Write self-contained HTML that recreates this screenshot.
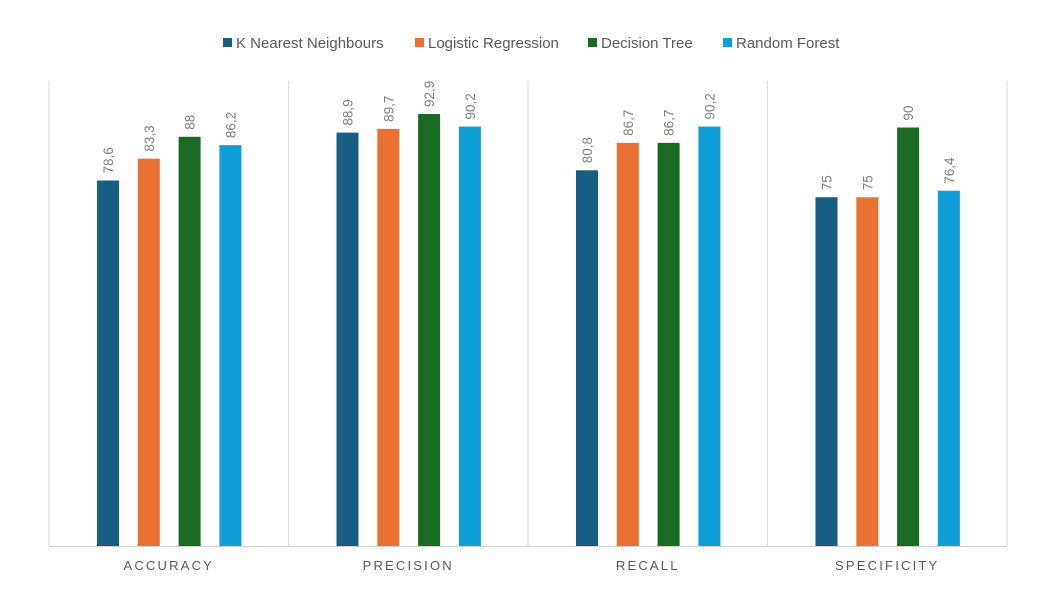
<!DOCTYPE html>
<html><head><meta charset="utf-8"><style>
body{margin:0;background:#fff;width:1062px;height:594px;overflow:hidden;font-family:"Liberation Sans",sans-serif}
</style></head><body>
<svg width="1062" height="594">
<g id="legend"></g>
<g id="grid"></g>
<g id="bars"></g>
<g id="labels"></g>
<g id="xlab"></g>
</svg>
<script>
const categories=["ACCURACY","PRECISION","RECALL","SPECIFICITY"];
const seriesNames=["K Nearest Neighbours","Logistic Regression","Decision Tree","Random Forest"];
const knn=[78.6,88.9,80.8,75];
const lr=[83.3,89.7,86.7,75];
const dt=[88,92.9,86.7,90];
const rf=[86.2,90.2,90.2,76.4];
const valueLabels=[["78,6","88,9","80,8","75"],["83,3","89,7","86,7","75"],["88","92,9","86,7","90"],["86,2","90,2","90,2","76,4"]];
const series=[knn,lr,dt,rf];
const colors=["#175f82","#e97132","#196b24","#0f9ed5"];
const NS="http://www.w3.org/2000/svg";
const L=49,R=1007,T=81,B=546,ymax=100;
const cw=(R-L)/categories.length;
const y=v=>B-(B-T)*v/ymax;
const xb=(c,s)=>L+c*cw+48+s*40.8;
function mk(tag,attrs,parent){const e=document.createElementNS(NS,tag);for(const k in attrs)e.setAttribute(k,attrs[k]);parent.appendChild(e);return e;}
const g=document.getElementById('grid'),gb=document.getElementById('bars'),gl=document.getElementById('labels'),gx=document.getElementById('xlab'),lg=document.getElementById('legend');
for(let i=0;i<=categories.length;i++){const l=mk('line',{x1:L+i*cw,x2:L+i*cw,y1:T,y2:B,stroke:'#d9d9d9','stroke-width':1},g);

}
const ax=mk('line',{x1:L,x2:R,y1:B+0.5,y2:B+0.5,stroke:'#d0d0d0'},g);


categories.forEach((c,ci)=>{
 const t=mk('text',{x:L+ci*cw+cw/2,y:570,'text-anchor':'middle','font-size':13,fill:'#595959','letter-spacing':'2.2'},gx);t.textContent=c;
 
 
 series.forEach((s,si)=>{
  const x=xb(ci,si),yt=y(s[ci]);
  const r=mk('rect',{x:x,y:yt,width:22,height:B-yt,fill:colors[si]},gb);
  
  
  const tx=mk('text',{transform:`translate(${x+16},${yt-7}) rotate(-90)`,'font-size':13.5,fill:'#7f7f7f'},gl);
  tx.textContent=valueLabels[si][ci];
  
  
 });
});
const lx=[223,415,588,723];
seriesNames.forEach((n,i)=>{
 const r=mk('rect',{x:lx[i],y:38,width:9,height:9,fill:colors[i]},lg);
 
 
 const t=mk('text',{x:lx[i]+13,y:48,'font-size':15,fill:'#595959'},lg);t.textContent=n;
 
 
});
</script>
</body></html>
